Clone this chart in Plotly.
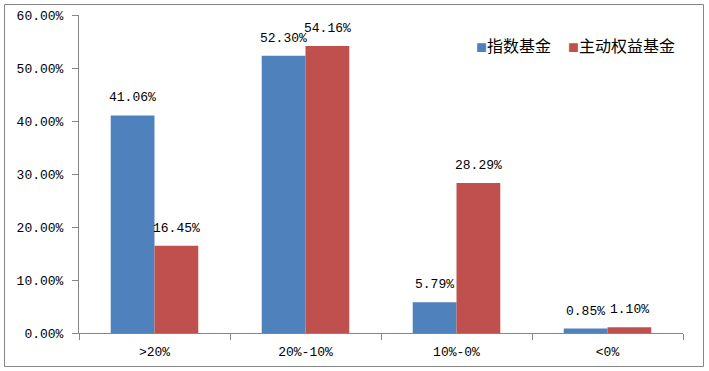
import plotly.graph_objects as go

categories = [">20%", "20%-10%", "10%-0%", "<0%"]
index_fund = [0.4106, 0.5230, 0.0579, 0.0085]
active_fund = [0.1645, 0.5416, 0.2829, 0.0110]
series_names = ["指数基金", "主动权益基金"]
y_ticks = [0, 0.1, 0.2, 0.3, 0.4, 0.5, 0.6]
colors = ["#4F81BD", "#C0504D"]

FONT = "Liberation Mono, Noto Sans CJK SC, monospace"
BARGAP = 0.42

L, R, T, B = 79, 26, 15, 38
W, H = 709, 371
pw, ph = W - L - R, H - T - B
bar_w = pw / len(categories) * (1 - BARGAP) / 2

def px_x(x):
    return (x - L) / pw

def px_y(y):
    return (H - B - y) / ph

fig = go.Figure()
annotations = []
series = [index_fund, active_fund]
for i, (name, vals, color) in enumerate(zip(series_names, series, colors)):
    fig.add_trace(go.Bar(
        x=categories, y=vals, name=name, marker_color=color,
        marker_line_width=0, showlegend=False, hoverinfo="skip",
    ))
    for c, v in zip(categories, vals):
        annotations.append(dict(
            x=c, y=v, xref="x", yref="y", xshift=(i - 0.5) * bar_w, yshift=8,
            xanchor="center", yanchor="bottom", showarrow=False,
            text=f"{v*100:.2f}%", font=dict(size=13, family=FONT, color="#000000"),
        ))

for name, color, x_left in [(series_names[0], colors[0], 474), (series_names[1], colors[1], 566)]:
    annotations.append(dict(
        xref="paper", yref="paper", x=px_x(x_left), y=px_y(45),
        xanchor="left", yanchor="middle", showarrow=False,
        text=f"<span style='color:{color};font-size:11px'>■</span>{name}",
        font=dict(size=16, family="Noto Sans CJK SC", color="#000000")))

fig.update_layout(
    width=W, height=H,
    margin=dict(l=L, r=R, t=T, b=B, autoexpand=False),
    paper_bgcolor="white", plot_bgcolor="white",
    barmode="group", bargap=BARGAP, bargroupgap=0,
    font=dict(family=FONT, size=13, color="#000000"),
    showlegend=False,
    xaxis=dict(showline=True, linecolor="#868686", linewidth=1,
               ticks="outside", ticklen=6, tickcolor="#868686",
               tickson="boundaries", tickfont=dict(size=13, family=FONT),
               ticklabelstandoff=6, showgrid=False),
    yaxis=dict(range=[0, 0.6], tickvals=y_ticks, tickformat=".2%",
               showline=True, linecolor="#868686", linewidth=1,
               ticks="outside", ticklen=6, tickcolor="#868686",
               ticklabelstandoff=6,
               showgrid=False, zeroline=False,
               tickfont=dict(size=13, family=FONT)),
    annotations=annotations,
    shapes=[dict(type="rect", xref="paper", yref="paper",
                 x0=px_x(4.5), x1=px_x(703.5),
                 y0=px_y(366.5), y1=px_y(4.5),
                 line=dict(color="#868686", width=1), fillcolor="rgba(0,0,0,0)",
                 layer="below")],
)

fig.write_html("out.html", config={"displayModeBar": False},
               post_script="document.body.style.margin='0';")
